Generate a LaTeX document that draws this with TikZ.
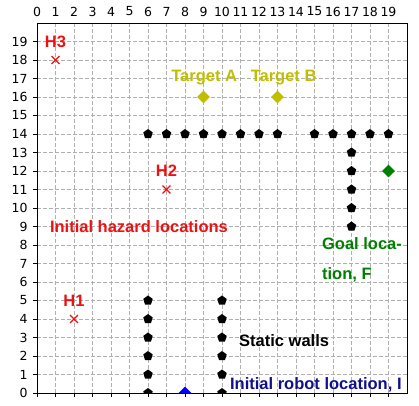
\documentclass[tikz,border=0pt]{standalone}
\usepackage{fontspec}
\setmainfont{Liberation Sans}
\newfontfamily\tickfont{DejaVu Sans}
\usepackage{tikz}
\usetikzlibrary{shapes.geometric,shapes.misc}
\definecolor{hazred}{HTML}{EE1111}
\definecolor{tgtolive}{HTML}{BFBF00}
\definecolor{goalgreen}{HTML}{008000}
\definecolor{robotblue}{HTML}{0000FF}
\definecolor{robotnavy}{HTML}{10108C}
\definecolor{gridgray}{HTML}{B0B0B0}
\tikzset{
  gridline/.style={draw=gridgray,line width=0.8pt,dash pattern=on 4pt off 2pt},
  frameline/.style={draw=black,line width=0.9pt},
  tickline/.style={draw=black,line width=0.8pt},
  ticklabel/.style={inner sep=0pt,font=\tickfont\fontsize{12.5}{14}\selectfont},
  wallpt/.style={regular polygon,regular polygon sides=5,fill=black,
                 minimum size=10pt,inner sep=0pt},
  hazpt/.style={cross out,draw=hazred,line width=1.3pt,
                minimum size=6.5pt,inner sep=0pt},
  diampt/.style={diamond,minimum width=13pt,minimum height=13pt,inner sep=0pt},
  maplabel/.style={inner sep=0pt,font=\fontsize{16.5}{19}\selectfont\bfseries}
}

\begin{document}
\begin{tikzpicture}[x=18.5pt,y=18.5pt]
    \path[use as bounding box] (-2.0,-0.703) rectangle (20.649,21.243);
    % grid
    \foreach \i in {1,...,19} {
      \draw[gridline] (\i,0) -- (\i,20);
      \draw[gridline] (0,\i) -- (20,\i);
    }
    % markers, clipped to the axes
    \begin{scope}
      \clip (0,0) rectangle (20,20);
      \foreach \x in {6,7,8,9,10,11,12,13,15,16,17,18,19}
        \node[wallpt] (top\x) at (\x,14) {};
      \foreach \y in {9,...,13}
        \node[wallpt] (col\y) at (17,\y) {};
      \foreach \y in {0,...,5} {
        \node[wallpt] (wl\y) at (6,\y) {};
        \node[wallpt] (wr\y) at (10,\y) {};
      }
      \node[hazpt] (h1) at (2,4) {};
      \node[hazpt] (h2) at (7,11) {};
      \node[hazpt] (h3) at (1,18) {};
      \node[diampt,fill=tgtolive] (tA) at (9,16) {};
      \node[diampt,fill=tgtolive] (tB) at (13,16) {};
      \node[diampt,fill=goalgreen] (goal) at (19,12) {};
      \node[diampt,fill=robotblue] (robot) at (8,0) {};
    \end{scope}
    % axes
    \draw[frameline] (0,0) rectangle (20,20);
    \foreach \i in {0,...,19} {
      \draw[tickline] (\i,0) -- ++(0,-4pt);
      \draw[tickline] (0,\i) -- ++(-4pt,0);
      \node[ticklabel] (xl\i) at (\i,20.62) {\i};
      \node[ticklabel,anchor=east] (yl\i) at (-0.5,\i) {\i};
    }
    % labels
    \node[maplabel,text=hazred] (lh3) at (1,19) {H3};
    \node[maplabel,text=hazred] (lh2) at (7,12) {H2};
    \node[maplabel,text=hazred] (lh1) at (2,5) {H1};
    \node[maplabel,text=tgtolive] (ltA) at (9.04,17.05) {Target A};
    \node[maplabel,text=tgtolive] (ltB) at (13.33,17.05) {Target B};
    \node[maplabel,text=hazred] (lhaz) at (5.51,9.02)
      {Initial hazard locations};
    \node[maplabel,text=goalgreen,anchor=base west] (lgoal) at (15.4,7.73)
      {Goal loca-};
    \node[maplabel,text=goalgreen,anchor=base west] (lgoal2) at (15.4,6.15)
      {tion, F};
    \node[maplabel] (lwall) at (13.36,2.84) {Static walls};
    \node[maplabel,text=robotnavy,anchor=base west] (lrobot) at (10.43,0.2)
      {Initial robot location, I};
  \end{tikzpicture}
\end{document}
